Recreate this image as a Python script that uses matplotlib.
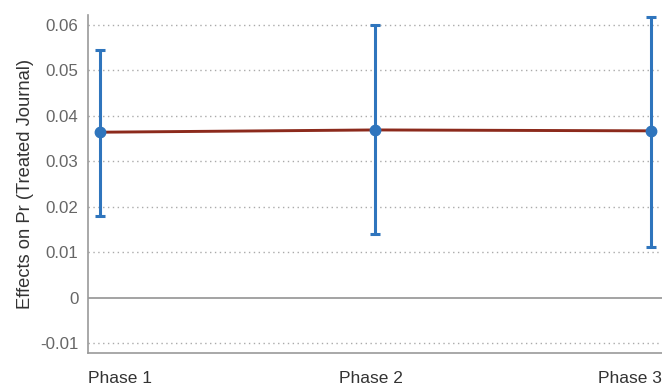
import matplotlib
matplotlib.use("Agg")
import matplotlib.pyplot as plt

plt.rcParams['font.family'] = ['Liberation Sans', 'DejaVu Sans']

phases = ["Phase 1", "Phase 2", "Phase 3"]
effects = [0.0364, 0.0369, 0.0367]
ci_low = [0.0180, 0.0140, 0.0111]
ci_high = [0.0545, 0.0600, 0.0618]
yticks = [-0.01, 0, 0.01, 0.02, 0.03, 0.04, 0.05, 0.06]
ytick_labels = ["-0.01", "0", "0.01", "0.02", "0.03", "0.04", "0.05", "0.06"]

blue = "#2f75bd"
red = "#8c2a1c"

fig = plt.figure(figsize=(6.62, 3.87), dpi=100)
ax = fig.add_axes([88/662, 34/387, 574/662, 338/387])

x = list(range(len(phases)))
ax.set_xlim(-0.0436, 2.04)
ax.set_ylim(-0.0122, 0.0622)

# dotted grid (zero line drawn solid)
for v in yticks:
    if v == 0:
        ax.axhline(0, color="#8a8a8a", lw=1.1, zorder=1)
    else:
        ax.axhline(v, color="#aaaaaa", lw=1.0, ls=(0, (1, 2.5)), zorder=1)

ax.plot(x, effects, color=red, lw=2.1, zorder=2)
yerr = [[e - l for e, l in zip(effects, ci_low)],
        [h - e for e, h in zip(effects, ci_high)]]
ax.errorbar(x, effects, yerr=yerr, fmt="o", color=blue, ms=7.5, elinewidth=2.2,
            capsize=3.8, capthick=2.2, zorder=3)

# category labels sit like the original: first left, middle, last right
ax.set_xticks([])
label_pos = [(0.0, "left"), (0.493, "center"), (1.0, "right")]
for name, (fx, ha) in zip(phases, label_pos):
    ax.text(fx, -0.074, name, transform=ax.transAxes, ha=ha, va="center",
            fontsize=12.5, color="#333333")

ax.set_yticks(yticks)
ax.set_yticklabels(ytick_labels, fontsize=12.2, color="#666666")
ax.tick_params(axis="both", length=0)
ax.tick_params(axis="y", pad=7)

for s in ["top", "right"]:
    ax.spines[s].set_visible(False)
for s in ["left", "bottom"]:
    ax.spines[s].set_color("#999999")
    ax.spines[s].set_linewidth(1.2)

ax.set_ylabel("Effects on Pr (Treated Journal)", fontsize=13.2, color="#333333", labelpad=4.5)

fig.savefig("out.png", dpi=100)
